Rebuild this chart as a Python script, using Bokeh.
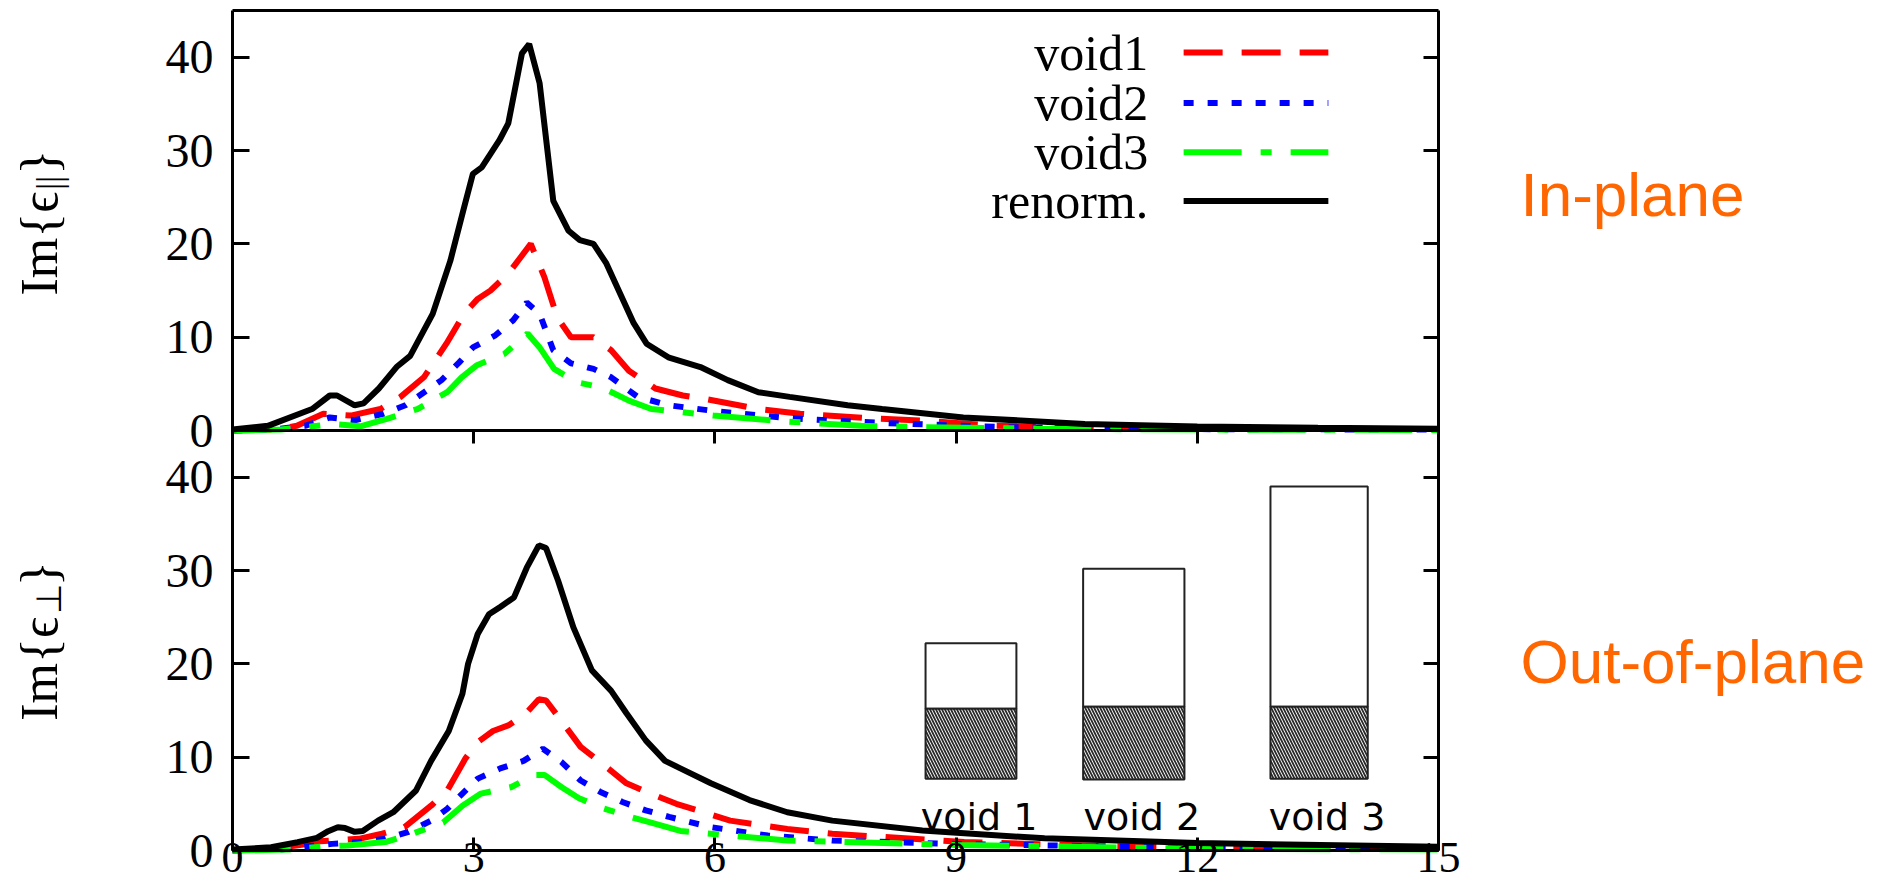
import math

from bokeh.plotting import figure
from bokeh.models import Range1d, LinearAxis, FixedTicker, Label, Grid
from bokeh.embed import file_html
from bokeh.resources import INLINE
from bokeh.core.properties import value

# ---------------------------------------------------------------------------
# Data: imaginary part of the dielectric function vs photon energy (eV)
# ---------------------------------------------------------------------------
PANEL_SPAN = 45.0          # y extent of one panel
X_END = 15.0
x_ticks = [0, 3, 6, 9, 12, 15]
y_ticks = [0, 10, 20, 30, 40]

series_names = ["void1", "void2", "void3", "renorm."]

# in-plane component, Im{eps_par}
inpl_void1_x = [0.0, 0.5, 0.8, 1.13, 1.47, 1.84, 2.09, 2.38, 2.66, 2.88, 3.05, 3.21, 3.43, 3.71, 3.88, 4.04,
                4.21, 4.49, 4.71, 4.93, 5.26, 5.60, 5.87, 6.54, 7.06, 7.94, 8.58, 9.5, 11.0, 13.0, 15.0]
inpl_void1_y = [0.0, 0.1, 0.5, 1.8, 1.6, 2.3, 3.6, 5.7, 9.3, 12.5, 14.1, 15.0, 16.8, 20.0, 16.4, 12.1,
                10.0, 10.0, 8.6, 6.4, 4.5, 3.75, 3.4, 2.3, 1.8, 1.3, 1.07, 0.5, 0.3, 0.2, 0.15]

inpl_void2_x = [0.0, 0.5, 0.9, 1.21, 1.52, 1.88, 2.15, 2.60, 2.82, 2.99, 3.27, 3.49, 3.66, 3.82, 3.99, 4.21,
                4.49, 4.71, 5.04, 5.43, 5.98, 6.82, 7.15, 8.10, 9.6, 12.0, 15.0]
inpl_void2_y = [0.0, 0.1, 0.5, 1.4, 1.1, 1.8, 2.7, 5.4, 7.3, 8.9, 10.2, 11.8, 13.7, 12.5, 8.6, 7.2,
                6.6, 5.7, 3.6, 2.7, 2.1, 1.4, 1.2, 0.8, 0.36, 0.15, 0.1]

inpl_void3_x = [0.0, 0.6, 1.05, 1.25, 1.59, 1.92, 2.30, 2.67, 2.85, 3.04, 3.38, 3.67, 3.82, 4.00, 4.27, 4.60,
                4.93, 5.21, 5.98, 6.82, 7.20, 7.82, 8.60, 10.0, 12.0, 15.0]
inpl_void3_y = [0.0, 0.1, 0.5, 0.7, 0.45, 1.25, 2.3, 4.1, 5.7, 7.0, 8.2, 10.4, 8.9, 6.6, 5.2, 4.6,
                3.2, 2.3, 1.6, 1.0, 0.8, 0.5, 0.36, 0.2, 0.1, 0.05]

inpl_renorm_x = [0.0, 0.44, 0.99, 1.21, 1.30, 1.52, 1.63, 1.82, 2.04, 2.21, 2.49, 2.71, 2.88, 2.99, 3.10, 3.32,
                 3.43, 3.60, 3.69, 3.82, 3.99, 4.18, 4.32, 4.49, 4.65, 4.99, 5.15, 5.43, 5.82, 6.16, 6.54, 6.93,
                 7.65, 8.08, 9.09, 10.6, 12.0, 13.5, 15.0]
inpl_renorm_y = [0.1, 0.5, 2.3, 3.75, 3.75, 2.7, 2.9, 4.5, 6.8, 8.0, 12.5, 18.2, 23.9, 27.5, 28.2, 31.1,
                 32.9, 40.4, 41.4, 37.2, 24.6, 21.4, 20.4, 20.0, 17.9, 11.5, 9.3, 7.8, 6.8, 5.4, 4.1, 3.6,
                 2.7, 2.3, 1.4, 0.7, 0.43, 0.3, 0.2]

# out-of-plane component, Im{eps_perp}
outp_void1_x = [0.0, 0.5, 0.95, 1.09, 1.57, 1.86, 2.14, 2.47, 2.67, 2.90, 3.05, 3.24, 3.43, 3.64, 3.81, 3.90,
                4.09, 4.33, 4.57, 4.90, 5.14, 5.52, 6.19, 6.90, 7.46, 9.1, 10.8, 12.0, 15.0]
outp_void1_y = [0.0, 0.2, 0.71, 1.0, 1.25, 1.8, 2.5, 4.8, 6.4, 9.9, 11.6, 12.8, 13.4, 14.6, 16.2, 16.07,
                13.9, 11.1, 9.5, 7.2, 6.3, 5.0, 3.2, 2.3, 1.8, 0.9, 0.5, 0.3, 0.2]

outp_void2_x = [0.0, 0.6, 1.0, 1.24, 1.57, 1.90, 2.19, 2.47, 2.67, 2.86, 3.05, 3.33, 3.62, 3.86, 4.09, 4.33,
                4.57, 4.85, 5.14, 5.43, 5.95, 6.66, 7.46, 9.0, 12.0, 15.0]
outp_void2_y = [0.0, 0.1, 0.5, 0.71, 0.9, 1.25, 2.0, 3.2, 4.46, 6.1, 7.7, 8.8, 9.6, 10.9, 9.5, 7.5,
                6.3, 5.2, 4.3, 3.6, 2.5, 1.6, 1.07, 0.7, 0.3, 0.15]

outp_void3_x = [0.0, 0.7, 1.1, 1.43, 1.90, 2.24, 2.62, 2.86, 3.09, 3.47, 3.76, 3.88, 4.09, 4.31, 4.62, 4.95,
                5.24, 5.57, 6.19, 6.90, 9.0, 12.0, 15.0]
outp_void3_y = [0.0, 0.1, 0.4, 0.54, 0.9, 1.8, 3.0, 4.8, 6.1, 6.8, 8.1, 8.1, 6.8, 5.6, 4.5, 3.6,
                2.9, 2.1, 1.6, 1.07, 0.6, 0.2, 0.1]

outp_renorm_x = [0.0, 0.48, 0.81, 1.05, 1.19, 1.31, 1.40, 1.52, 1.62, 1.81, 2.00, 2.28, 2.47, 2.69, 2.86, 2.93,
                 3.05, 3.19, 3.33, 3.50, 3.66, 3.81, 3.90, 4.05, 4.24, 4.47, 4.71, 4.90, 5.14, 5.38, 5.57, 5.95,
                 6.43, 6.90, 7.46, 8.58, 10.1, 12.0, 15.0]
outp_renorm_y = [0.1, 0.35, 0.89, 1.36, 2.07, 2.5, 2.4, 2.0, 2.1, 3.2, 4.1, 6.4, 9.6, 12.8, 16.8, 20.0,
                 23.2, 25.3, 26.1, 27.1, 30.3, 32.7, 32.4, 28.9, 23.9, 19.3, 17.1, 14.7, 11.8, 9.6, 8.8, 7.2,
                 5.4, 4.1, 3.2, 2.14, 1.3, 0.8, 0.4]

# inset sketch of the three void geometries (slab + void layer)
inset_labels = ["void 1", "void 2", "void 3"]
inset_left = [8.62, 10.58, 12.91]
inset_right = [9.75, 11.84, 14.12]
inset_base = [7.7, 7.6, 7.7]
inset_layer = [15.2, 15.4, 15.4]
inset_top = [22.2, 30.2, 39.0]

# ---------------------------------------------------------------------------
# Styles
# ---------------------------------------------------------------------------
series_colors = ["#ff0000", "#0000ff", "#00ff00", "#000000"]
series_dashes = ["39 19", "10 14", "58 19 11 19", "solid"]
LINE_W = 6
SERIF = "Liberation Serif"
ORANGE = "#ff6600"

# page geometry (pixels) of the plotting box inside the canvas
W, H = 1879, 891
BOX_L, BOX_R, BOX_T, BOX_B = 232, 1438, 10, 850
px_x = (BOX_R - BOX_L) / X_END                 # pixels per eV
px_y = (BOX_B - BOX_T) / (2 * PANEL_SPAN)      # pixels per unit of Im{eps}

x_lo = -BOX_L / px_x
x_hi = X_END + (W - BOX_R) / px_x
y_lo = -(H - BOX_B) / px_y
y_hi = 2 * PANEL_SPAN + BOX_T / px_y

# ---------------------------------------------------------------------------
# Figure: the frame fills the canvas; both panels are drawn inside it, the
# upper one on the "top" range, the lower one on the default range.
# ---------------------------------------------------------------------------
p = figure(
    width=W, height=H, min_border=0,
    x_range=Range1d(x_lo, x_hi), y_range=Range1d(y_lo, y_hi),
    x_axis_location=None, y_axis_location=None,
    output_backend="svg", toolbar_location=None,
)
p.extra_y_ranges = {"top": Range1d(y_lo - PANEL_SPAN, y_hi - PANEL_SPAN)}
p.outline_line_color = None
p.background_fill_color = "white"
p.border_fill_color = "white"
for g in p.select(type=Grid):
    g.visible = False


def make_axis(ticks, loc, bounds, tick_in, standoff=0, labels=True, size="48px"):
    ax = LinearAxis(ticker=FixedTicker(ticks=ticks), fixed_location=loc, bounds=bounds)
    ax.major_tick_in = tick_in
    ax.major_tick_out = 0
    ax.minor_tick_line_color = None
    ax.major_tick_line_width = 3
    ax.major_tick_line_color = "black"
    ax.axis_line_width = 3
    ax.axis_line_color = "black"
    ax.major_label_standoff = standoff
    ax.major_label_text_font = SERIF
    ax.major_label_text_font_size = size
    ax.major_label_text_color = "black"
    if not labels:
        ax.major_label_overrides = {t: "" for t in ticks}
    return ax


# y ticks of both panels on one axis: lower panel values, upper panel offset
both_panels = list(y_ticks) + [t + PANEL_SPAN for t in y_ticks]
upper_names = {t + PANEL_SPAN: str(t) for t in y_ticks}
y_bounds = (0, 2 * PANEL_SPAN)
x_bounds = (0, X_END)

left_ax = make_axis(both_panels, 0, y_bounds, 17, standoff=19)
left_ax.major_label_overrides = upper_names
p.add_layout(left_ax, "left")

p.add_layout(make_axis(both_panels, X_END, y_bounds, 15, labels=False), "right")
p.add_layout(make_axis(x_ticks, 0, x_bounds, 13, standoff=-8, size="44px"), "below")
# shared border between the panels, ticks pointing into the lower panel
p.add_layout(make_axis(x_ticks, PANEL_SPAN, x_bounds, 13, labels=False), "above")
# upper edge of the box
p.add_layout(make_axis([], 2 * PANEL_SPAN, x_bounds, 0, labels=False), "above")

# ---------------------------------------------------------------------------
# Curves
# ---------------------------------------------------------------------------
top_series = [(inpl_void1_x, inpl_void1_y), (inpl_void2_x, inpl_void2_y),
              (inpl_void3_x, inpl_void3_y), (inpl_renorm_x, inpl_renorm_y)]
bottom_series = [(outp_void1_x, outp_void1_y), (outp_void2_x, outp_void2_y),
                 (outp_void3_x, outp_void3_y), (outp_renorm_x, outp_renorm_y)]

for (xs, ys), color, dash in zip(top_series, series_colors, series_dashes):
    p.line(xs, ys, y_range_name="top", line_color=color, line_width=LINE_W, line_dash=dash)

for (xs, ys), color, dash in zip(bottom_series, series_colors, series_dashes):
    p.line(xs, ys, line_color=color, line_width=LINE_W, line_dash=dash)

# ---------------------------------------------------------------------------
# Legend of the upper panel: label on the left, line sample on the right
# ---------------------------------------------------------------------------
legend_text_x = 11.39
legend_line_x = [11.83, 13.63]
legend_rows_y = [40.5, 35.1, 29.8, 24.6]
for name, color, dash, ly in zip(series_names, series_colors, series_dashes, legend_rows_y):
    p.text(x=[legend_text_x], y=[ly], text=[name], y_range_name="top",
           text_align="right", text_baseline="middle", text_color="black",
           text_font=value(SERIF), text_font_size="50px")
    p.line(legend_line_x, [ly, ly], y_range_name="top", line_color=color,
           line_width=LINE_W, line_dash=dash)

# ---------------------------------------------------------------------------
# Inset in the lower panel: sketches of the three void structures
# ---------------------------------------------------------------------------
p.quad(left=inset_left, right=inset_right, bottom=inset_layer, top=inset_top,
       fill_color="white", line_color="#222222", line_width=2)
p.quad(left=inset_left, right=inset_right, bottom=inset_base, top=inset_layer,
       fill_color="white", hatch_pattern="\\", hatch_color="#2a2a2a",
       hatch_scale=6, hatch_weight=1.8, line_color="#222222", line_width=2)
label_x = [(a + b) / 2 + 0.1 for a, b in zip(inset_left, inset_right)]
p.text(x=label_x, y=[3.6] * 3, text=inset_labels, text_align="center",
       text_baseline="alphabetic", text_color="black",
       text_font=value("DejaVu Sans"), text_font_size="38px")

# ---------------------------------------------------------------------------
# Axis titles (rotated, with subscripts) and panel captions
# ---------------------------------------------------------------------------
ANG = math.pi / 2
TITLE_X = -2.40


def rotated_title(y_start, y_sub, y_close, sub, range_name):
    common = dict(angle=ANG, text_align="left", text_baseline="middle",
                  text_font=SERIF, text_color="black")
    if range_name:
        common["y_range_name"] = range_name
    p.add_layout(Label(x=TITLE_X, y=y_start, text="Im{\u03f5", text_font_size="52px", **common))
    p.add_layout(Label(x=TITLE_X + 0.12, y=y_sub, text=sub, text_font_size="35px", **common))
    p.add_layout(Label(x=TITLE_X, y=y_close, text="}", text_font_size="52px", **common))


rotated_title(14.46, 25.8, 27.4, "||", "top")
rotated_title(13.9, 25.3, 28.3, "\u22a5", None)

caption = dict(text_font="Liberation Sans", text_font_size="62px", text_color=ORANGE,
               text_align="left", text_baseline="middle")
p.add_layout(Label(x=16.02, y=25.3, y_range_name="top", text="In-plane", **caption))
p.add_layout(Label(x=16.02, y=20.2, text="Out-of-plane", **caption))

open("out.html", "w").write(file_html(p, INLINE))
